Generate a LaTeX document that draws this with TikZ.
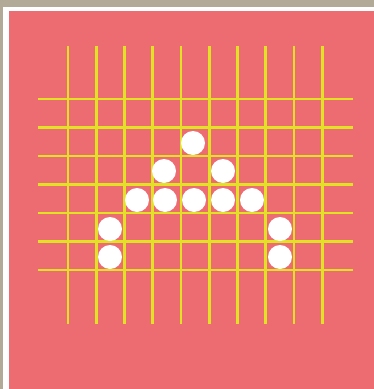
\documentclass[tikz,border=0pt]{standalone}
\usetikzlibrary{positioning}
\definecolor{boardpink}{RGB}{236,108,114}
\definecolor{gridyellow}{RGB}{226,226,36}
\definecolor{framegray}{RGB}{178,170,150}
\tikzset{
  gridline/.style = {draw=gridyellow, line width=2.6pt},
  stone/.style    = {circle, fill=white, minimum size=24pt, inner sep=0pt},
}

\begin{document}
\begin{tikzpicture}[x=1pt, y=-1pt]
  \useasboundingbox (0,0) rectangle (374,389);
  % frame and board
  \fill[framegray] (0,0) rectangle (374,389);
  \fill[white] (3,7) rectangle (374,389);
  \fill[boardpink] (9,11) rectangle (374,389);
  % grid
  \foreach \i in {0,...,9}
    \draw[gridline] ({68+28.25*\i},46) -- ({68+28.25*\i},324);
  \foreach \j in {0,...,6}
    \draw[gridline] (38,{99+28.5*\j}) -- (353,{99+28.5*\j});
  % stones
  \node[stone] (top) at (193,143) {};
  \node[stone] (l2) at (164,171) {};
  \node[stone] (r2) at (223,171) {};
  \node[stone] (m1) at (137,200) {};
  \node[stone] (m2) at (165,200) {};
  \node[stone] (m3) at (194,200) {};
  \node[stone] (m4) at (223,200) {};
  \node[stone] (m5) at (252,200) {};
  \node[stone] (l4) at (110,229) {};
  \node[stone] (r4) at (280,229) {};
  \node[stone] (l5) at (110,257) {};
  \node[stone] (r5) at (280,257) {};
\end{tikzpicture}
\end{document}
